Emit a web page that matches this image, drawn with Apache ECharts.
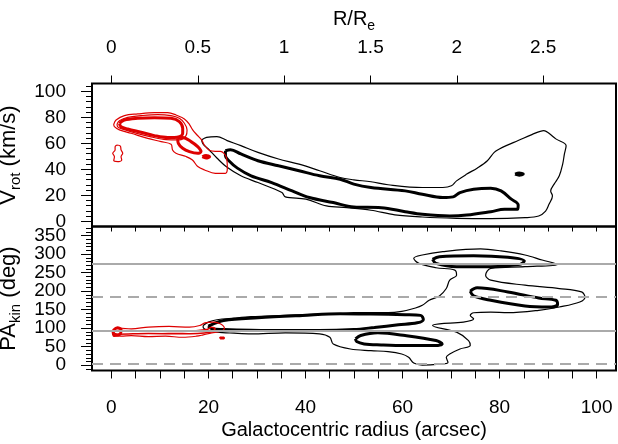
<!DOCTYPE html>
<html>
<head>
<meta charset="utf-8">
<title>Vrot and PAkin vs radius</title>
<script src="https://cdn.jsdelivr.net/npm/echarts@6/dist/echarts.min.js"></script>
<style>
  html, body { margin: 0; padding: 0; background: #fff; }
  #chart { width: 618px; height: 444px; }
</style>
</head>
<body>
<div id="chart"></div>
<script>
// ---- axis ticks / labels ----
const radiusTicks = [0, 5, 10, 15, 20, 25, 30, 35, 40, 45, 50, 55, 60, 65, 70, 75, 80, 85, 90, 95, 100];
const radiusLabels = [0, 20, 40, 60, 80, 100];
const reTicks = [0, 0.5, 1, 1.5, 2, 2.5];
const reScale = 35.6; // arcsec per R_e
const vrotLabels = [0, 20, 40, 60, 80, 100];
const vrotMinor = [0, 4, 8, 12, 16, 20, 24, 28, 32, 36, 40, 44, 48, 52, 56, 60, 64, 68, 72, 76, 80, 84, 88, 92, 96, 100, 104];
const paLabels = [0, 50, 100, 150, 200, 250, 300, 350];
const paMinor = [-10, 0, 10, 20, 30, 40, 50, 60, 70, 80, 90, 100, 110, 120, 130, 140, 150, 160, 170, 180, 190, 200,
  210, 220, 230, 240, 250, 260, 270, 280, 290, 300, 310, 320, 330, 340, 350, 360, 370];
const paPhot = [94, 274];      // solid grey
const paPhotPerp = [4, 184];   // dashed grey

// ---- top panel contours: [radius arcsec, Vrot km/s] ----
const topRedOuter = [[0.48,74.6],[0.96,77.9],[2.68,81.3],[5.42,82.6],[8.86,83.6],[11.6,83.6],[13.32,81.8],[15.04,78.7],
  [16.07,74.6],[16.75,70.3],[17.65,66.4],[18.6,62.6],[19.16,58.5],[20.19,54.6],[21.42,53.8],[22.45,53.8],[23.69,49.2],
  [23.89,40.8],[23.48,36.9],[21.42,36.9],[19.2,39.5],[17.8,42.1],[16.7,47.2],[15.4,49.8],[13.3,52.3],[12.6,54.9],
  [12.3,59.2],[10.24,61.3],[7.48,63.8],[4.05,67.7],[1.65,70.3],[0.62,72.8],[0.48,74.6]];
const topRedInner = [[1.17,74.9],[1.65,77.4],[3.36,80.0],[6.11,81.3],[9.54,82.1],[12.29,81.3],[14.0,79.2],[15.04,75.4],
  [15.59,70.3],[15.38,65.9],[14.0,62.6],[11.26,62.8],[8.17,64.9],[5.42,67.4],[2.68,70.5],[1.30,72.6],[1.17,74.9]];
const topRedCore = [[1.65,75.4],[2.68,77.9],[5.42,79.2],[8.86,79.7],[12.29,79.2],[14.0,76.7],[14.69,71.5],[14.69,67.7],
  [14.0,65.1],[11.6,64.4],[8.86,65.9],[6.11,68.5],[3.36,71.0],[1.99,72.8],[1.65,75.4]];
const topRedLobe = [[13.66,63.8],[14.69,64.4],[16.41,61.3],[17.78,57.4],[18.47,53.6],[17.78,52.3],[16.07,53.6],
  [14.69,56.2],[13.8,60.0],[13.66,63.8]];
const topRedDot = [[18.75,49.7],[19.5,50.7],[20.25,49.7],[19.5,48.7],[18.75,49.7]];
const topRedIsle = [[1.17,58.7],[1.85,57.9],[1.99,54.9],[2.33,52.3],[1.99,49.7],[2.13,47.2],[1.30,45.9],[0.48,46.7],
  [0.62,49.7],[0.27,52.3],[0.76,54.9],[0.76,57.4],[1.17,58.7]];
const topBlackOuter = [[18.56,62.6],[19.62,64.6],[21.74,65.2],[23.85,62.1],[26.68,58.2],[30.20,53.0],[34.44,47.9],
  [38.67,44.0],[42.91,38.9],[47.14,33.7],[49.96,31.9],[53.49,30.4],[57.02,28.1],[64.08,26.0],[68.31,26.0],[70.08,27.3],
  [71.14,31.1],[73.25,36.3],[75.37,40.9],[77.49,46.6],[78.90,53.0],[79.96,55.6],[81.37,58.2],[83.84,62.1],[86.66,66.7],
  [89.13,69.8],[90.19,67.7],[91.60,63.4],[93.72,58.2],[93.37,51.8],[93.01,44.0],[92.31,35.0],[91.25,28.6],[90.54,23.4],
  [90.90,19.5],[90.19,13.1],[89.49,7.9],[88.07,4.1],[85.25,2.8],[78.19,2.0],[71.14,2.3],[64.08,3.3],[58.43,5.0],
  [53.49,8.5],[48.55,10.5],[44.32,11.8],[40.09,17.0],[35.85,18.8],[35.14,22.1],[30.20,29.8],[26.68,35.0],[23.85,41.5],
  [21.74,48.7],[19.97,55.6],[18.91,59.4],[18.56,62.6]];
const topBlackCore = [[23.50,54.3],[24.56,55.1],[26.68,51.8],[30.20,46.6],[34.44,42.7],[38.67,38.9],[42.91,35.0],
  [47.14,32.4],[49.96,28.6],[53.49,26.0],[60.55,23.4],[64.08,20.8],[68.31,18.3],[70.43,18.8],[71.84,22.1],[74.66,24.7],
  [78.19,25.5],[80.31,23.4],[82.43,17.0],[83.84,12.6],[83.70,9.2],[81.02,9.2],[78.19,7.4],[73.25,4.8],[69.73,4.1],
  [64.08,5.4],[60.55,7.4],[55.61,10.5],[49.96,11.0],[45.73,14.4],[40.79,18.3],[37.26,23.4],[33.03,29.8],[28.79,35.0],
  [25.97,40.9],[24.21,46.6],[23.50,50.5],[23.50,54.3]];
const topBlackDot = [[83.2,36.3],[84.05,37.1],[84.9,36.3],[84.05,35.5],[83.2,36.3]];

// ---- bottom panel contours: [radius arcsec, PA deg] ----
const paBlackOuter = [[18.91,107.2],[19.97,116.2],[21.74,122.6],[25.26,127.1],[28.79,130.8],[35.85,134.4],[42.91,138.0],
  [47.14,138.9],[49.96,141.6],[57.02,141.6],[59.84,145.2],[62.67,154.3],[64.08,161.6],[65.49,175.2],[67.61,186.9],
  [69.02,206.9],[69.73,229.5],[71.14,243.1],[70.78,256.7],[66.90,263.1],[63.37,274.9],[62.31,288.5],[64.08,297.5],
  [68.31,306.6],[76.08,313.8],[80.31,308.4],[85.25,297.5],[88.78,283.9],[91.96,272.1],[85.25,265.8],[78.19,261.3],
  [77.13,243.1],[78.19,229.5],[85.25,215.9],[92.31,206.9],[96.89,197.8],[97.60,184.2],[96.54,170.6],[92.31,157.0],
  [88.07,148.0],[81.72,141.6],[78.19,143.4],[74.66,141.6],[73.96,134.4],[74.66,125.3],[72.55,116.2],[67.61,111.7],
  [66.20,107.2],[71.14,89.1],[73.61,66.4],[73.96,52.8],[71.84,43.7],[69.73,30.1],[69.02,21.1],[69.37,7.5],[67.61,2.9],
  [64.08,0.2],[62.31,5.7],[61.26,21.1],[59.84,30.1],[57.02,36.5],[53.49,39.2],[49.26,43.7],[45.73,57.3],[45.02,75.4],
  [42.91,84.5],[35.85,87.2],[28.79,84.5],[25.26,86.3],[21.74,89.1],[19.97,93.6],[18.91,102.7],[18.91,107.2]];
const paBlackLong = [[19.97,105.4],[21.03,111.7],[23.15,120.8],[30.20,128.0],[39.38,134.4],[47.14,138.9],[53.49,138.0],
  [60.55,136.2],[63.73,134.4],[64.29,123.5],[63.02,114.4],[59.14,109.0],[54.20,101.8],[49.96,96.3],[42.91,93.6],
  [35.85,93.6],[28.79,94.5],[23.15,96.3],[20.68,98.1],[19.97,105.4]];
const paBlackLow = [[50.32,70.9],[51.38,80.0],[54.90,87.2],[60.55,80.0],[66.90,66.4],[68.17,57.3],[66.90,52.8],
  [60.55,52.8],[55.61,54.6],[52.08,57.3],[50.53,63.7],[50.32,70.9]];
const paBlackTop = [[66.20,285.7],[67.61,293.0],[74.66,295.7],[81.72,291.2],[85.11,281.2],[84.19,272.1],[78.19,265.8],
  [71.14,265.8],[66.90,274.9],[66.20,285.7]];
const paBlackMid = [[73.96,199.6],[75.37,208.7],[81.72,197.8],[88.07,181.5],[91.60,175.2],[91.96,163.4],[90.19,157.0],
  [85.25,159.8],[78.19,175.2],[74.66,186.9],[73.96,199.6]];
const paRedOuter = [[0.21,87.2],[0.56,96.3],[1.62,99.9],[4.09,98.1],[7.62,102.7],[11.86,104.5],[16.09,102.7],
  [18.21,107.2],[19.27,114.4],[21.03,116.2],[22.44,111.7],[23.29,99.9],[22.44,90.9],[20.68,87.2],[18.91,81.8],
  [17.50,78.2],[14.68,75.4],[11.15,78.2],[7.62,77.3],[4.09,80.0],[1.98,78.2],[0.56,80.0],[0.21,87.2]];
const paRedCore = [[0.21,89.1],[1.27,93.6],[7.62,92.7],[14.68,90.9],[19.62,96.3],[20.68,102.7],[21.38,98.1],
  [20.32,89.1],[14.68,84.5],[7.62,85.4],[1.27,83.6],[0.21,89.1]];
const paRedBlob = [[0.35,93.6],[1.27,100.8],[1.98,96.3],[1.83,84.5],[0.56,80.0],[0.35,93.6]];
const paRedSpeck = [[22.4,72.0],[23.2,72.0],[23.2,75.0],[22.4,75.0],[22.4,72.0]];

const RED = '#dd0000';
const FONT = 'Liberation Sans, Arial, sans-serif';

const chart = echarts.init(document.getElementById('chart'));

function contour(data, color, width, panel) {
  return {
    type: 'line',
    data: data,
    xAxisIndex: panel === 0 ? 0 : 2,
    yAxisIndex: panel === 0 ? 0 : 2,
    showSymbol: false,
    symbol: 'none',
    smooth: 0.35,
    silent: true,
    z: 3,
    lineStyle: { color: color, width: width }
  };
}

const tickLabel = { color: '#000', fontSize: 19, fontFamily: FONT,
  showMinLabel: true, showMaxLabel: true, hideOverlap: false };
const noLine = { show: false, onZero: false };
const subRich = {
  m: { fontSize: 22, fontFamily: FONT, color: '#000', verticalAlign: 'top', lineHeight: 24 },
  s: { fontSize: 15, fontFamily: FONT, color: '#000', verticalAlign: 'top', lineHeight: 15, padding: [10, 0, 0, 0] }
};
// PA labels are so crowded that echarts drops neighbours of the end labels;
// split them over two overlaid axes so every label survives
const paLabelsEven = paLabels.filter((v, i) => i % 2 === 0);
const paLabelsOdd = paLabels.filter((v, i) => i % 2 === 1);

const option = {
  animation: false,
  backgroundColor: '#fff',
  grid: [
    { left: 92, width: 524, top: 83.5, height: 143, outerBoundsMode: 'none', containLabel: false,
      show: true, borderColor: '#000', borderWidth: 2, backgroundColor: 'transparent' },
    { left: 92, width: 524, top: 226.5, height: 144, outerBoundsMode: 'none', containLabel: false,
      show: true, borderColor: '#000', borderWidth: 2, backgroundColor: 'transparent' }
  ],
  xAxis: [
    // top panel data axis
    { type: 'value', gridIndex: 0, position: 'bottom', min: -4, max: 104,
      axisLine: noLine, axisTick: { show: false }, axisLabel: { show: false }, splitLine: { show: false } },
    // R/Re on top
    { type: 'value', gridIndex: 0, position: 'top', min: -4 / reScale, max: 104 / reScale,
      name: '{m|R/R}{s|e}', nameLocation: 'middle', nameGap: 50,
      nameTextStyle: { rich: { m: Object.assign({}, subRich.m, { fontSize: 20 }), s: Object.assign({}, subRich.s, { fontSize: 14 }) } },
      axisLine: noLine,
      axisTick: { show: true, inside: false, length: 8, customValues: reTicks, lineStyle: { color: '#000', width: 1 } },
      axisLabel: Object.assign({ show: true, margin: 26, customValues: reTicks }, tickLabel),
      splitLine: { show: false } },
    // bottom panel radius axis
    { type: 'value', gridIndex: 1, position: 'bottom', min: -4, max: 104,
      name: 'Galactocentric radius (arcsec)', nameLocation: 'middle', nameGap: 50,
      nameTextStyle: { fontSize: 20, fontFamily: FONT, color: '#000' },
      axisLine: noLine,
      axisTick: { show: true, inside: false, length: 8, customValues: radiusTicks, lineStyle: { color: '#000', width: 1 } },
      axisLabel: Object.assign({ show: true, margin: 28, customValues: radiusLabels }, tickLabel),
      splitLine: { show: false } },
    // ticks on the divider, pointing into the lower panel
    { type: 'value', gridIndex: 1, position: 'top', min: -4, max: 104,
      axisLine: noLine,
      axisTick: { show: true, inside: true, length: 5, customValues: radiusTicks, lineStyle: { color: '#000', width: 1 } },
      axisLabel: { show: false }, splitLine: { show: false } }
  ],
  yAxis: [
    { type: 'value', gridIndex: 0, position: 'left', min: -4, max: 106,
      name: '{m|V}{s|rot}{m| (km/s)}', nameLocation: 'middle', nameRotate: 90, nameGap: 55,
      nameTextStyle: { rich: subRich },
      axisLine: noLine,
      axisTick: { show: true, length: 11, customValues: vrotLabels, lineStyle: { color: '#000', width: 1 } },
      axisLabel: Object.assign({ show: true, margin: 26, customValues: vrotLabels }, tickLabel),
      splitLine: { show: false } },
    { type: 'value', gridIndex: 0, position: 'left', min: -4, max: 106,
      axisLine: noLine,
      axisTick: { show: true, length: 6, customValues: vrotMinor, lineStyle: { color: '#000', width: 1 } },
      axisLabel: { show: false }, splitLine: { show: false } },
    { type: 'value', gridIndex: 1, position: 'left', min: -14.4, max: 374.4,
      name: '{m|PA}{s|kin}{m| (deg)}', nameLocation: 'middle', nameRotate: 90, nameGap: 55,
      nameTextStyle: { rich: subRich },
      axisLine: noLine,
      axisTick: { show: true, length: 11, customValues: paLabels, lineStyle: { color: '#000', width: 1 } },
      axisLabel: Object.assign({ show: true, margin: 26, customValues: paLabelsEven }, tickLabel),
      splitLine: { show: false } },
    { type: 'value', gridIndex: 1, position: 'left', min: -14.4, max: 374.4,
      axisLine: noLine,
      axisTick: { show: true, length: 6, customValues: paMinor, lineStyle: { color: '#000', width: 1 } },
      axisLabel: { show: false }, splitLine: { show: false } },
    { type: 'value', gridIndex: 1, position: 'left', min: -14.4, max: 374.4,
      axisLine: noLine, axisTick: { show: false },
      axisLabel: Object.assign({ show: true, margin: 26, customValues: paLabelsOdd }, tickLabel),
      splitLine: { show: false } }
  ],
  series: [
    {
      type: 'line', data: [], xAxisIndex: 2, yAxisIndex: 2, silent: true, z: 1,
      markLine: {
        symbol: 'none', silent: true, label: { show: false },
        lineStyle: { color: '#aaaaaa', width: 2 },
        emphasis: { disabled: true },
        data: paPhot.map(v => ({ yAxis: v, lineStyle: { type: 'solid', color: '#aaaaaa', width: 2 } }))
          .concat(paPhotPerp.map(v => ({ yAxis: v, lineStyle: { type: [11, 7], color: '#aaaaaa', width: 2 } })))
      }
    },
    contour(topBlackOuter, '#000', 1.2, 0),
    contour(topBlackCore, '#000', 3, 0),
    contour(topBlackDot, '#000', 3, 0),
    contour(topRedOuter, RED, 1.2, 0),
    contour(topRedInner, RED, 1.2, 0),
    contour(topRedCore, RED, 3, 0),
    contour(topRedLobe, RED, 3, 0),
    contour(topRedDot, RED, 3, 0),
    contour(topRedIsle, RED, 1.2, 0),
    contour(paBlackOuter, '#000', 1.2, 1),
    contour(paBlackLong, '#000', 3, 1),
    contour(paBlackLow, '#000', 3, 1),
    contour(paBlackTop, '#000', 3, 1),
    contour(paBlackMid, '#000', 3, 1),
    contour(paRedOuter, RED, 1.2, 1),
    contour(paRedCore, RED, 1.5, 1),
    contour(paRedBlob, RED, 3, 1),
    contour(paRedSpeck, RED, 2, 1)
  ]
};

chart.setOption(option);
</script>
</body>
</html>
